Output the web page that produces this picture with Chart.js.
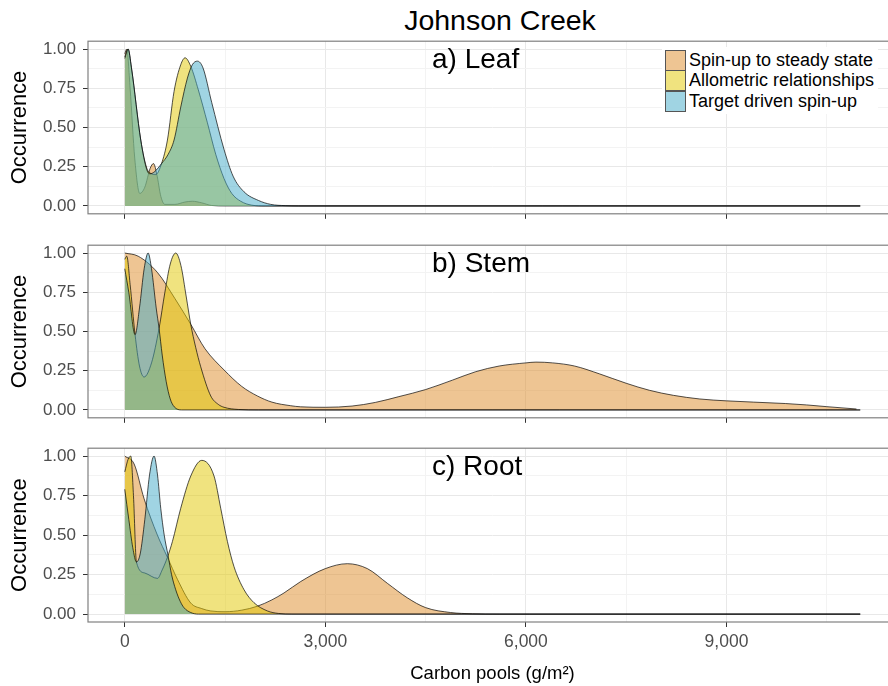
<!DOCTYPE html>
<html><head><meta charset="utf-8">
<script src="https://cdn.jsdelivr.net/npm/chart.js@4"></script>
<style>
html,body{margin:0;padding:0;width:888px;height:686px;overflow:hidden;background:#fff;font-family:'Liberation Sans',Arial,sans-serif;}
.cv{position:absolute;left:0;width:900px;}
#title{position:absolute;left:0;width:1000px;top:6px;text-align:center;font-size:28.5px;line-height:28.5px;color:#000;}
.plab{position:absolute;left:432px;font-size:28px;line-height:28px;color:#000;white-space:nowrap;}
#legend{position:absolute;left:662px;top:47px;width:216px;height:67px;background:#fff;}
.lrow{position:absolute;left:3px;height:20.7px;line-height:20.7px;font-size:18px;white-space:nowrap;color:#000;}
.sw{position:absolute;left:0;top:0;width:19px;height:19px;border:1px solid #555;}
.lt{position:absolute;left:24px;top:0;}
</style></head>
<body>
<div id="title">Johnson Creek</div>
<canvas id="c0" class="cv" style="top:24px;height:207px" width="900" height="207"></canvas>
<canvas id="c1" class="cv" style="top:228px;height:207px" width="900" height="207"></canvas>
<canvas id="c2" class="cv" style="top:431px;height:255px" width="900" height="255"></canvas>
<div class="plab" id="p0" style="top:45px"></div>
<div class="plab" id="p1" style="top:249px"></div>
<div class="plab" id="p2" style="top:452px"></div>
<div id="legend"></div>
<script>
// ---- data ----
const seriesNames = ['Spin-up to steady state', 'Allometric relationships', 'Target driven spin-up'];
const panelTitles = ['a) Leaf', 'b) Stem', 'c) Root'];
const mainTitle = 'Johnson Creek';
const xTitle = 'Carbon pools (g/m\u00B2)';
const yTitle = 'Occurrence';

const xMajorTicks = [0, 3000, 6000, 9000];
const xTickLabels = ['0', '3,000', '6,000', '9,000'];
const xMinorTicks = [1500, 4500, 7500, 10500];
const yMajorTicks = [0, 0.25, 0.5, 0.75, 1];
const yTickLabels = ['0.00', '0.25', '0.50', '0.75', '1.00'];
const yMinorTicks = [0.125, 0.375, 0.625, 0.875];

// [carbon pool, occurrence]
const leafSpinup = [[0,0.97],[30,1.0],[80,0.75],[150,0.3],[224,0.08],[300,0.12],[380,0.24],[430,0.27],[480,0.2],[540,0.06],[600,0.01],[750,0.01],[900,0.025],[1010,0.03],[1150,0.02],[1300,0.003],[1500,0],[11000,0]];
const leafAllometric = [[0,0.95],[50,1.0],[100,0.88],[239,0.42],[330,0.24],[400,0.205],[463,0.2],[550,0.27],[638,0.42],[737,0.73],[837,0.9],[902,0.944],[987,0.89],[1100,0.74],[1236,0.53],[1360,0.33],[1485,0.174],[1600,0.08],[1734,0.03],[1900,0.005],[2100,0],[11000,0]];
const leafTarget = [[0,0.94],[50,1.0],[100,0.88],[239,0.42],[330,0.23],[378,0.205],[450,0.22],[550,0.27],[650,0.33],[737,0.42],[837,0.63],[937,0.815],[1010,0.9],[1087,0.923],[1170,0.88],[1300,0.66],[1485,0.36],[1620,0.19],[1784,0.09],[2000,0.035],[2183,0.01],[2400,0.002],[2600,0],[11000,0]];

const stemSpinup = [[0,1.0],[200,0.98],[489,0.876],[750,0.71],[987,0.546],[1200,0.39],[1485,0.255],[1750,0.15],[1984,0.089],[2200,0.05],[2482,0.027],[2631,0.02],[3000,0.017],[3400,0.025],[3747,0.048],[4100,0.085],[4500,0.13],[4900,0.19],[5250,0.244],[5600,0.28],[6000,0.3],[6150,0.305],[6400,0.3],[6727,0.28],[7100,0.23],[7500,0.17],[7850,0.125],[8208,0.093],[8600,0.07],[9000,0.058],[9400,0.05],[9880,0.041],[10200,0.032],[10500,0.021],[10944,0.006]];
const stemAllometric = [[0,0.96],[30,0.98],[80,0.8],[154,0.48],[220,0.28],[289,0.21],[400,0.3],[513,0.52],[600,0.75],[680,0.93],[762,1.0],[840,0.92],[920,0.72],[987,0.545],[1060,0.4],[1136,0.275],[1286,0.089],[1400,0.035],[1485,0.017],[1700,0.003],[2000,0],[11000,0]];
const stemTarget = [[0,0.9],[60,0.75],[154,0.48],[220,0.65],[290,0.9],[349,1.0],[400,0.9],[470,0.65],[513,0.52],[560,0.35],[620,0.18],[680,0.07],[740,0.02],[850,0],[11000,0]];

const rootSpinup = [[0,1.0],[140,0.95],[289,0.73],[488,0.5],[638,0.36],[788,0.22],[987,0.07],[1150,0.035],[1286,0.02],[1500,0.015],[1750,0.025],[1984,0.05],[2200,0.09],[2382,0.134],[2631,0.206],[3000,0.288],[3329,0.319],[3628,0.288],[3927,0.195],[4226,0.103],[4500,0.041],[4873,0.01],[5200,0.002],[5600,0],[11000,0]];
const rootAllometric = [[0,0.9],[50,0.98],[90,1.0],[130,0.75],[174,0.33],[300,0.26],[489,0.226],[560,0.28],[638,0.36],[713,0.46],[837,0.67],[987,0.874],[1151,0.973],[1335,0.874],[1435,0.67],[1535,0.46],[1634,0.3],[1784,0.154],[1933,0.072],[2133,0.02],[2300,0.004],[2500,0],[11000,0]];
const rootTarget = [[0,0.79],[60,0.6],[120,0.42],[174,0.33],[230,0.38],[300,0.6],[370,0.88],[438,1.0],[490,0.88],[538,0.67],[590,0.5],[648,0.37],[700,0.25],[762,0.154],[830,0.08],[887,0.04],[987,0.01],[1100,0],[11000,0]];

const fills = ['rgba(222,140,40,0.5)', 'rgba(225,200,0,0.5)', 'rgba(65,170,200,0.5)'];
const panelData = [
  [leafSpinup, leafAllometric, leafTarget],
  [stemSpinup, stemAllometric, stemTarget],
  [rootSpinup, rootAllometric, rootTarget]
];

// ---- layout text ----
document.getElementById('title').textContent = mainTitle;
panelTitles.forEach((t, i) => document.getElementById('p' + i).textContent = t);
const leg = document.getElementById('legend');
seriesNames.forEach((n, i) => {
  const r = document.createElement('div');
  r.className = 'lrow';
  r.style.top = (2.5 + i * 20.7) + 'px';
  r.innerHTML = '<div class="sw" style="background:' + fills[i] + '"></div><div class="lt"></div>';
  r.querySelector('.lt').textContent = n;
  leg.appendChild(r);
});

const FONT = "'Liberation Sans', Arial, sans-serif";
const frame = {
  id: 'frame',
  afterDatasetsDraw(chart) {
    const a = chart.chartArea, c = chart.ctx;
    c.save();
    c.strokeStyle = '#808080';
    c.lineWidth = 1.2;
    c.strokeRect(a.left, a.top, a.right - a.left, a.bottom - a.top);
    c.restore();
  }
};

function makeChart(idx) {
  const bottom = idx === 2;
  const datasets = panelData[idx].map((pts, i) => ({
    label: seriesNames[i],
    data: pts.map(p => ({ x: p[0], y: p[1] })),
    backgroundColor: fills[i],
    borderColor: 'rgba(0,0,0,0.85)',
    borderWidth: 0.8,
    fill: { value: 0 },
    pointRadius: 0,
    cubicInterpolationMode: 'monotone',
    order: 3 - i
  }));
  const allX = xMajorTicks.concat(xMinorTicks).sort((a, b) => a - b);
  const allY = yMajorTicks.concat(yMinorTicks).sort((a, b) => a - b);
  new Chart(document.getElementById('c' + idx), {
    type: 'line',
    data: { datasets },
    plugins: [frame],
    options: {
      responsive: false,
      animation: false,
      layout: { padding: { top: 14, bottom: bottom ? 0 : 4, left: 0, right: 3 } },
      plugins: { legend: { display: false }, tooltip: { enabled: false } },
      scales: {
        x: {
          type: 'linear', min: -550, max: 11550,
          afterBuildTicks: s => { s.ticks = allX.map(v => ({ value: v })); },
          afterFit: s => { s.height = bottom ? 64 : 12; },
          grid: {
            color: c => xMajorTicks.includes(c.tick.value) ? '#e8e8e8' : '#f3f3f3',
            tickColor: c => xMajorTicks.includes(c.tick.value) ? '#333' : 'rgba(0,0,0,0)',
            tickLength: 5, lineWidth: 1
          },
          border: { display: false },
          ticks: {
            autoSkip: false, maxRotation: 0, padding: 5, color: '#4d4d4d',
            font: { family: FONT, size: 17.5 },
            callback: v => { const k = xMajorTicks.indexOf(v); return (bottom && k >= 0) ? xTickLabels[k] : ''; }
          },
          title: { display: bottom, text: xTitle, color: '#000', font: { family: FONT, size: 18.5 }, padding: { top: 0, bottom: 1 } }
        },
        y: {
          type: 'linear', min: -0.05, max: 1.05,
          afterBuildTicks: s => { s.ticks = allY.map(v => ({ value: v })); },
          afterFit: s => { s.width = 88; },
          grid: {
            color: c => yMajorTicks.includes(c.tick.value) ? '#e8e8e8' : '#f3f3f3',
            tickColor: c => yMajorTicks.includes(c.tick.value) ? '#333' : 'rgba(0,0,0,0)',
            tickLength: 5, lineWidth: 1
          },
          border: { display: false },
          ticks: {
            autoSkip: false, padding: 7, color: '#4d4d4d',
            font: { family: FONT, size: 17 },
            callback: v => { const k = yMajorTicks.indexOf(v); return k >= 0 ? yTickLabels[k] : ''; }
          },
          title: { display: true, text: yTitle, color: '#000', font: { family: FONT, size: 22 }, padding: { top: 7, bottom: 0 } }
        }
      }
    }
  });
}
[0, 1, 2].forEach(makeChart);
</script>
</body></html>
